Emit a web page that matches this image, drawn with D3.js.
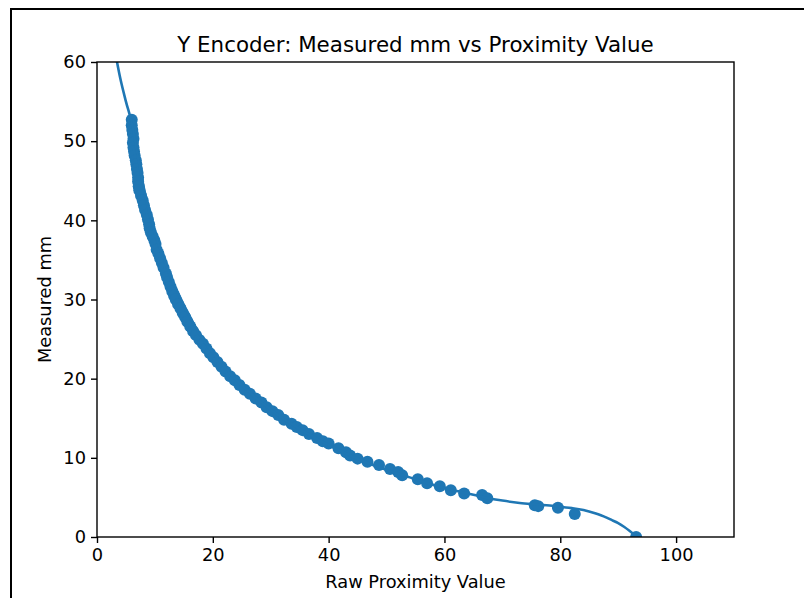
<!DOCTYPE html>
<html><head><meta charset="utf-8">
<script src="https://cdn.jsdelivr.net/npm/d3@7"></script>
<style>body{margin:0;background:#fff;} svg{display:block;}</style>
</head><body>
<svg id="chart" width="804" height="598"></svg>
<script>
// Measured data points (raw proximity value, measured mm)
const rawValues = [6.0,6.0,6.1,6.2,6.3,6.2,6.3,6.4,6.5,6.7,6.8,6.9,7.0,7.1,7.1,7.2,7.3,7.6,7.9,8.1,8.3,8.6,8.8,9.0,9.1,9.3,9.6,9.9,10.1,10.3,10.6,10.9,11.2,11.5,11.9,12.1,12.4,12.7,13.0,13.3,13.6,14.0,14.4,14.8,15.2,15.6,16.1,16.6,17.1,17.7,18.3,18.9,19.5,20.1,20.8,21.5,22.2,23.0,23.8,24.6,25.5,26.4,27.4,28.4,29.3,30.3,31.3,32.3,33.6,34.5,35.5,36.6,38.0,39.0,40.0,41.7,43.0,43.7,45.0,46.7,48.7,50.6,52.0,52.7,55.4,57.0,59.2,61.1,63.4,66.5,67.4,75.6,76.2,79.6,82.5,93.1];
const measuredMm = [52.7,52.0,51.4,50.9,50.3,49.8,49.2,48.7,48.2,47.6,47.1,46.5,46.0,45.4,44.9,44.3,43.8,43.1,42.5,41.9,41.3,40.7,40.1,39.5,39.0,38.5,38.0,37.5,37.0,36.3,35.8,35.2,34.6,34.0,33.3,32.8,32.2,31.6,31.0,30.5,30.0,29.4,28.9,28.3,27.8,27.2,26.6,26.0,25.5,24.9,24.4,23.8,23.2,22.7,22.1,21.5,20.9,20.3,19.8,19.2,18.6,18.1,17.5,17.0,16.4,15.9,15.4,14.8,14.3,13.9,13.5,13.0,12.5,12.1,11.8,11.2,10.7,10.3,9.9,9.5,9.1,8.6,8.2,7.8,7.3,6.8,6.4,5.9,5.5,5.3,4.9,4.0,3.9,3.7,2.9,0.0];
// Fitted curve samples
const fitX = [3.2,4,5,6,7,8,9,10,11,12,13,14,15,16,18,20,22,24,26,28,30,32,34,36,38,40,42,44,46,48,50,52,55,58,61,64,67,70,73,76,79,82,84,86,87,88,89,90,91,92,93.2];
const fitY = [61,58,55,52.3,48.3,44.4,41.1,38.4,36.2,34.2,32.4,30.8,29.3,27.9,25.3,23.3,21.5,19.9,18.5,17.2,16.1,15.0,14.1,13.2,12.4,11.6,10.9,10.2,9.6,9.0,8.5,8.0,7.3,6.6,6.0,5.5,5.0,4.6,4.3,4.1,3.9,3.65,3.4,3.0,2.75,2.45,2.1,1.75,1.3,0.75,0.0];
const xTicks = [0,20,40,60,80,100];
const yTicks = [0,10,20,30,40,50,60];
const titleText = "Y Encoder: Measured mm vs Proximity Value";
const xLabel = "Raw Proximity Value";
const yLabel = "Measured mm";

const svg = d3.select("#chart");
const color = "#1f77b4";
const L = 97, R = 734, T = 62, B = 537;
const x = d3.scaleLinear().domain([0,110]).range([L,R]);
const y = d3.scaleLinear().domain([0,60]).range([B,T]);
const font = "DejaVu Sans, sans-serif";

// outer frame
svg.append("rect").attr("x",11).attr("y",9).attr("width",900).attr("height",700)
  .attr("fill","none").attr("stroke","#000").attr("stroke-width",2);

svg.append("defs").append("clipPath").attr("id","clip")
  .append("rect").attr("x",L).attr("y",T).attr("width",R-L).attr("height",B-T);

const g = svg.append("g").attr("clip-path","url(#clip)");
const pts = rawValues.map((v,i)=>[v,measuredMm[i]]);
g.selectAll("circle").data(pts).join("circle")
  .attr("cx",d=>x(d[0])).attr("cy",d=>y(d[1])).attr("r",6).attr("fill",color);

const fit = fitX.map((v,i)=>[v,fitY[i]]);
svg.append("path").attr("clip-path","url(#clip)").datum(fit)
  .attr("d",d3.line().x(d=>x(d[0])).y(d=>y(d[1])).curve(d3.curveMonotoneX))
  .attr("fill","none").attr("stroke",color).attr("stroke-width",2.6);

// axes
const xa = svg.append("g").attr("transform",`translate(0,${B})`)
  .call(d3.axisBottom(x).tickValues(xTicks).tickSize(6).tickPadding(5).tickSizeOuter(0));
const ya = svg.append("g").attr("transform",`translate(${L},0)`)
  .call(d3.axisLeft(y).tickValues(yTicks).tickSize(6).tickPadding(5).tickSizeOuter(0));
[xa,ya].forEach(a=>{
  a.selectAll("text").attr("font-family",font).attr("font-size",17.8).attr("fill","#000");
  a.selectAll("line").attr("stroke","#000").attr("stroke-width",1.4);
  a.select(".domain").remove();
});
// spines
svg.append("rect").attr("x",L).attr("y",T).attr("width",R-L).attr("height",B-T)
  .attr("fill","none").attr("stroke","#000").attr("stroke-width",1.4);

svg.append("text").attr("x",(L+R)/2).attr("y",T-10).attr("text-anchor","middle")
  .attr("font-family",font).attr("font-size",21.4).text(titleText);
svg.append("text").attr("x",(L+R)/2).attr("y",588).attr("text-anchor","middle")
  .attr("font-family",font).attr("font-size",17.8).text(xLabel);
svg.append("text").attr("transform",`translate(51,${(T+B)/2}) rotate(-90)`).attr("text-anchor","middle")
  .attr("font-family",font).attr("font-size",17.8).text(yLabel);
</script>
</body></html>
